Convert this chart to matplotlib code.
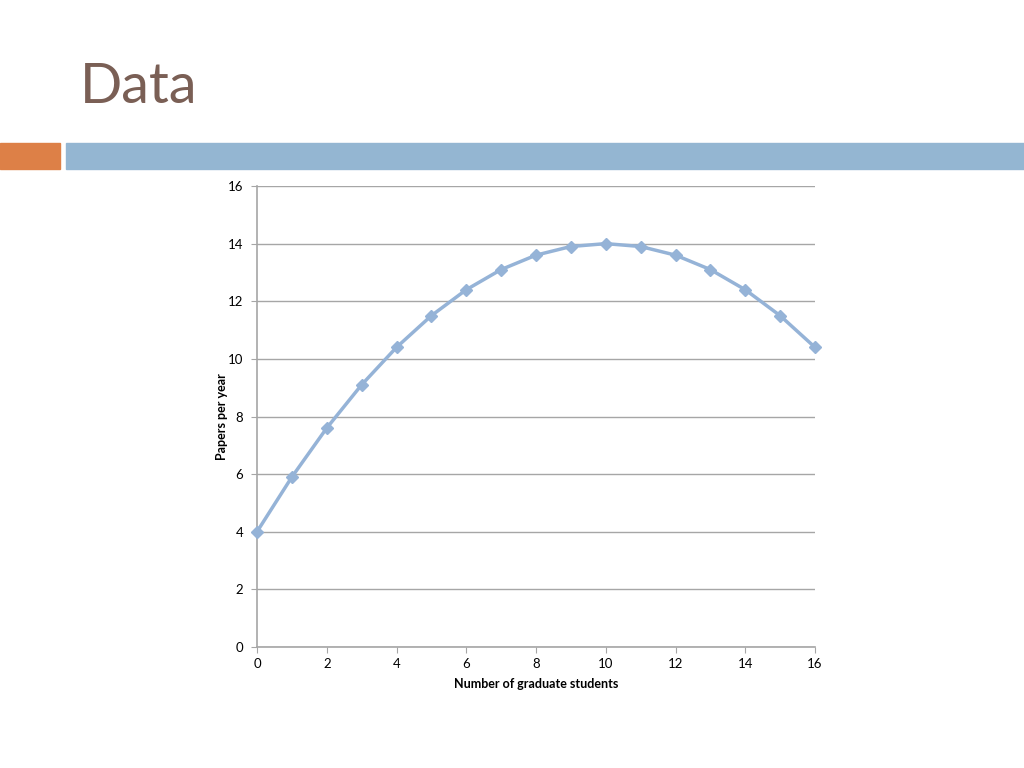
import matplotlib
matplotlib.use("Agg")
import matplotlib.pyplot as plt
from matplotlib.patches import Rectangle

students = [0, 1, 2, 3, 4, 5, 6, 7, 8, 9, 10, 11, 12, 13, 14, 15, 16]
papers = [4.0, 5.9, 7.6, 9.1, 10.4, 11.5, 12.4, 13.1, 13.6, 13.9, 14.0,
          13.9, 13.6, 13.1, 12.4, 11.5, 10.4]
x_ticks = [0, 2, 4, 6, 8, 10, 12, 14, 16]
y_ticks = [0, 2, 4, 6, 8, 10, 12, 14, 16]

line_color = "#95b3d7"
grid_color = "#a6a6a6"

plt.rcParams["font.family"] = ["Lato", "DejaVu Sans"]

fig = plt.figure(figsize=(10.24, 7.68), dpi=100)

# slide header: title and the two bars
fig.text(80 / 1024, 1 - 103 / 768, "Data", fontsize=40, color="#7a5f55",
         va="baseline", ha="left")
fig.patches.append(Rectangle((0, 1 - 169 / 768), 60 / 1024, 26 / 768,
                             transform=fig.transFigure, color="#dd8047"))
fig.patches.append(Rectangle((66 / 1024, 1 - 169 / 768), 958 / 1024, 26 / 768,
                             transform=fig.transFigure, color="#94b6d2"))

ax = fig.add_axes([257 / 1024, 121 / 768, 558 / 1024, 461 / 768])
ax.plot(students, papers, color=line_color, linewidth=2.5, marker="D",
        markersize=6, markerfacecolor=line_color, markeredgecolor=line_color,
        clip_on=False, zorder=3)

ax.set_xlim(0, 16)
ax.set_ylim(0, 16)
ax.set_xticks(x_ticks)
ax.set_yticks(y_ticks)
ax.yaxis.grid(True, color=grid_color, linewidth=1)
ax.set_axisbelow(True)

for side in ["top", "right"]:
    ax.spines[side].set_visible(False)
for side in ["left", "bottom"]:
    ax.spines[side].set_color(grid_color)
    ax.spines[side].set_linewidth(1.2)

ax.tick_params(axis="both", colors=grid_color, labelcolor="black",
               labelsize=9.5, length=4, direction="out")
ax.tick_params(axis="x", pad=4)
ax.tick_params(axis="y", pad=6)

ax.set_xlabel("Number of graduate students", fontsize=9, fontweight="bold",
              labelpad=6)
ax.set_ylabel("Papers per year", fontsize=9, fontweight="bold", labelpad=0)

fig.savefig("out.png", dpi=100)
